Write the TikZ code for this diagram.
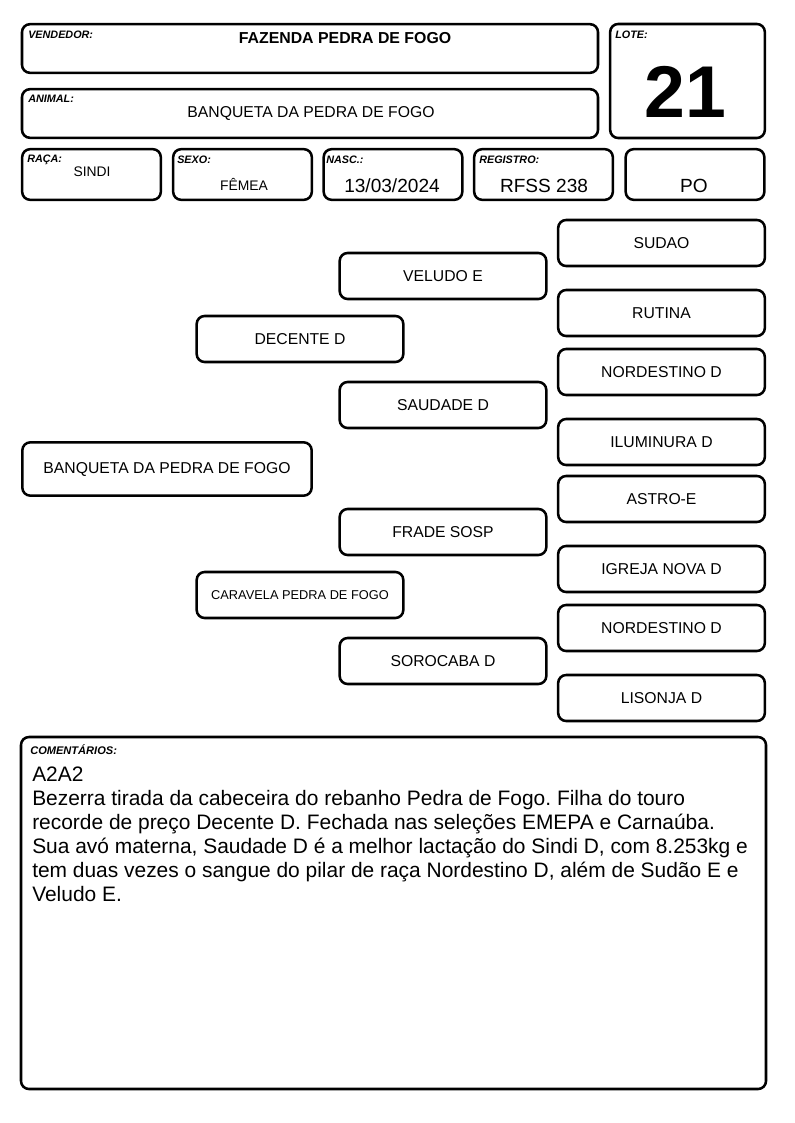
\documentclass[tikz,border=0pt]{standalone}
\usepackage{fontspec}
\setmainfont{Liberation Sans}
\frenchspacing
\begin{document}
\begin{tikzpicture}[x=0.75pt,y=-0.75pt,
  frame/.style={draw, rounded corners=6pt, line width=1.9pt, inner sep=0pt},
  pbox/.style={frame, minimum width=155pt, minimum height=34.5pt, font=\fontsize{11.8pt}{13pt}\selectfont},
  lbl/.style={anchor=north west, inner sep=0pt, font=\fontsize{8.1pt}{9pt}\selectfont\bfseries\itshape},
  val/.style={inner sep=0pt, font=\fontsize{10.4pt}{12pt}\selectfont},
  bigval/.style={inner sep=0pt, font=\fontsize{14.3pt}{16pt}\selectfont}]
\useasboundingbox (0,0) rectangle (794,1123);
% header boxes
\node[frame, minimum width=432pt, minimum height=36.5pt] (vend) at (310,48.5) {};
\node[frame, minimum width=432pt, minimum height=36.5pt] (anim) at (310,113.5) {};
\node[frame, minimum width=116pt, minimum height=85.5pt] (lote) at (687.5,81) {};
\node[frame, minimum width=104pt, minimum height=38pt] (raca) at (91.5,174.5) {};
\node[frame, minimum width=104pt, minimum height=38pt] (sexo) at (242.5,174.5) {};
\node[frame, minimum width=104pt, minimum height=38pt] (nasc) at (393,174.5) {};
\node[frame, minimum width=104pt, minimum height=38pt] (regi) at (543.5,174.5) {};
\node[frame, minimum width=104pt, minimum height=38pt] (tipo) at (695,174.5) {};
\node[lbl] (vendl) at (28,31) {VENDEDOR:};
\node[lbl] (animl) at (28,95) {ANIMAL:};
\node[lbl] (lotel) at (615,31) {LOTE:};
\node[lbl] (racal) at (27,155) {RAÇA:};
\node[lbl] (sexol) at (177,156) {SEXO:};
\node[lbl] (nascl) at (326,156) {NASC.:};
\node[lbl] (regil) at (479,156) {REGISTRO:};
\node[inner sep=0pt, font=\fontsize{11.9pt}{13pt}\selectfont\bfseries] (vendv) at (345,38) {FAZENDA PEDRA DE FOGO};
\node[inner sep=0pt, font=\fontsize{11.8pt}{13pt}\selectfont] (animv) at (311,113) {BANQUETA DA PEDRA DE FOGO};
\node[inner sep=0pt, font=\fontsize{55pt}{60pt}\selectfont\bfseries] (lotev) at (685,92) {21};
\node[val] (racav) at (92,172) {SINDI};
\node[val] (sexov) at (244,184) {FÊMEA};
\node[bigval] (nascv) at (392,186) {13/03/2024};
\node[bigval] (regiv) at (544,186) {RFSS 238};
\node[bigval] (tipov) at (694,186) {PO};
% pedigree
\node[pbox, minimum width=217pt, minimum height=40pt] (p0) at (167,469) {BANQUETA DA PEDRA DE FOGO};
\node[pbox] (p1) at (300,339) {DECENTE D};
\node[pbox, font=\fontsize{9.6pt}{11pt}\selectfont] (p2) at (300,595) {CARAVELA PEDRA DE FOGO};
\node[pbox] (p11) at (443,276) {VELUDO E};
\node[pbox] (p12) at (443,405) {SAUDADE D};
\node[pbox] (p21) at (443,532) {FRADE SOSP};
\node[pbox] (p22) at (443,661) {SOROCABA D};
\node[pbox] (q1) at (661.5,243) {SUDAO};
\node[pbox] (q2) at (661.5,313) {RUTINA};
\node[pbox] (q3) at (661.5,372) {NORDESTINO D};
\node[pbox] (q4) at (661.5,442) {ILUMINURA D};
\node[pbox] (q5) at (661.5,499) {ASTRO-E};
\node[pbox] (q6) at (661.5,569) {IGREJA NOVA D};
\node[pbox] (q7) at (661.5,628) {NORDESTINO D};
\node[pbox] (q8) at (661.5,698) {LISONJA D};
% comments
\node[frame, minimum width=558.75pt, minimum height=264pt] (com) at (393.5,913) {};
\node[lbl, font=\fontsize{8.3pt}{9pt}\selectfont\bfseries\itshape] (coml) at (30,744) {COMENTÁRIOS:};
\node[anchor=north west, inner sep=0pt, align=left, font=\fontsize{15.7pt}{18pt}\selectfont] (comt) at (32,766.5) {A2A2\\
Bezerra tirada da cabeceira do rebanho Pedra de Fogo. Filha do touro\\
recorde de preço Decente D. Fechada nas seleções EMEPA e Carnaúba.\\
Sua avó materna, Saudade D é a melhor lactação do Sindi D, com 8.253kg e\\
tem duas vezes o sangue do pilar de raça Nordestino D, além de Sudão E e\\
Veludo E.};
\end{tikzpicture}
\end{document}
